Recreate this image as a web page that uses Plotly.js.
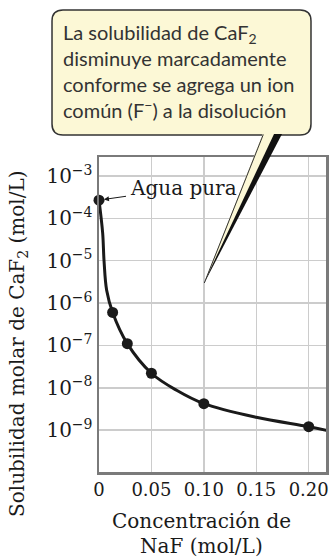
<!DOCTYPE html>
<html>
<head>
<meta charset="utf-8">
<script src="https://cdn.plot.ly/plotly-3.0.1.min.js"></script>
<style>html,body{margin:0;padding:0;background:#fff;}#chart{width:329px;height:557px;}</style>
</head>
<body>
<div id="chart"></div>
<script>
// ---- data ----
const pointX = [0, 0.013, 0.027, 0.05, 0.10, 0.20];
const pointY = [2.7e-4, 6.0e-7, 1.1e-7, 2.2e-8, 4.2e-9, 1.2e-9];
const curveX = [0, 0.0035, 0.0048, 0.0073, 0.013, 0.027, 0.05, 0.074, 0.10, 0.15, 0.20, 0.22];
const curveY = [2.7e-4, 4.5e-5, 1.0e-5, 2.0e-6, 6.0e-7, 1.1e-7, 2.2e-8, 8.7e-9, 4.2e-9, 2.0e-9, 1.2e-9, 9.5e-10];
const xTickVals = [0, 0.05, 0.10, 0.15, 0.20];
const xTickText = ['0', '0.05', '0.10', '0.15', '0.20'];
const yTickVals = [1e-3, 1e-4, 1e-5, 1e-6, 1e-7, 1e-8, 1e-9];
const yTickText = ['10<sup>−3</sup>', '10<sup>−4</sup>', '10<sup>−5</sup>', '10<sup>−6</sup>', '10<sup>−7</sup>', '10<sup>−8</sup>', '10<sup>−9</sup>'];
const calloutLines = ['La solubilidad de CaF<sub>2</sub>', 'disminuye marcadamente', 'conforme se agrega un ion', 'común (F<sup>−</sup>) a la disolución'];
const yTitle = 'Solubilidad molar de CaF<sub>2</sub> (mol/L)';
const xTitleLines = ['Concentración de', 'NaF (mol/L)'];
const pureLabel = 'Agua pura';

// ---- layout geometry (pixels) ----
const L = 99, R = 3, T = 157, B = 85, W = 329, H = 557;
const PW = W - L - R, PH = H - T - B;
const X = p => (p - L) / PW;
const Y = p => (H - B - p) / PH;
const serif = 'DejaVu Serif, serif';
const cream = '#fcf8d6';

function rrect(x0, y0, x1, y1, r) {
  const f = (px, py) => X(px).toFixed(4) + ',' + Y(py).toFixed(4);
  return 'M' + f(x0 + r, y0) + ' L' + f(x1 - r, y0) + ' Q' + f(x1, y0) + ' ' + f(x1, y0 + r) +
    ' L' + f(x1, y1 - r) + ' Q' + f(x1, y1) + ' ' + f(x1 - r, y1) +
    ' L' + f(x0 + r, y1) + ' Q' + f(x0, y1) + ' ' + f(x0, y1 - r) +
    ' L' + f(x0, y0 + r) + ' Q' + f(x0, y0) + ' ' + f(x0 + r, y0) + ' Z';
}
function poly(pts) {
  return 'M' + pts.map(p => X(p[0]).toFixed(4) + ',' + Y(p[1]).toFixed(4)).join(' L') + ' Z';
}

const traces = [
  {x: curveX, y: curveY, mode: 'lines', line: {color: '#1a1a1a', width: 3, shape: 'spline', smoothing: 1}, hoverinfo: 'skip', cliponaxis: false},
  {x: pointX, y: pointY, mode: 'markers', marker: {color: '#1a1a1a', size: 11}, cliponaxis: false}
];

const annotations = [];
const lineY = [33, 58, 84, 109];
calloutLines.forEach((t, i) => annotations.push({
  xref: 'paper', yref: 'paper', x: X(61), y: Y(lineY[i]), xanchor: 'left', yanchor: 'middle',
  text: t, showarrow: false, font: {family: 'Lato, sans-serif', size: 20, color: '#333333'}
}));
annotations.push({
  xref: 'paper', yref: 'paper', x: X(18), y: Y(344), xanchor: 'center', yanchor: 'middle',
  textangle: -90, text: yTitle, showarrow: false, font: {family: serif, size: 20, color: '#1a1a1a'}
});
const xtY = [521, 546];
xTitleLines.forEach((t, i) => annotations.push({
  xref: 'paper', yref: 'paper', x: X(201), y: Y(xtY[i]), xanchor: 'center', yanchor: 'middle',
  text: t, showarrow: false, font: {family: serif, size: 20, color: '#1a1a1a'}
}));
annotations.push({
  xref: 'x', yref: 'y', x: pointX[0], y: Math.log10(pointY[0]),
  ax: 84, ay: -12, text: pureLabel, showarrow: true, arrowhead: 2, arrowsize: 1, arrowwidth: 1,
  arrowcolor: '#1a1a1a', standoff: 5, startstandoff: 2,
  font: {family: serif, size: 20, color: '#1a1a1a'}
});

const shapes = [
  {type: 'path', xref: 'paper', yref: 'paper', path: rrect(52, 10, 311, 135, 11), fillcolor: cream, line: {color: '#333', width: 1.5}, layer: 'above'},
  {type: 'path', xref: 'paper', yref: 'paper', path: poly([[263, 134], [282, 134], [204.3, 283]]), fillcolor: '#111', line: {width: 0}, layer: 'above'},
  {type: 'path', xref: 'paper', yref: 'paper', path: poly([[263, 133], [274.5, 133], [204.3, 282]]), fillcolor: cream, line: {width: 0}, layer: 'above'},
  {type: 'line', xref: 'paper', yref: 'paper', x0: X(263.3), y0: Y(134.5), x1: X(204.3), y1: Y(283), line: {color: '#333', width: 1}, layer: 'above'}
];

const layout = {
  width: W, height: H, margin: {l: L, r: R, t: T, b: B, pad: 0},
  paper_bgcolor: '#fff', plot_bgcolor: '#fff', showlegend: false,
  xaxis: {range: [0, 0.2165], tickvals: xTickVals, ticktext: xTickText, ticks: '', showgrid: true,
    gridcolor: '#cccccc', gridwidth: 1.5, zeroline: false, showline: true, mirror: true,
    linecolor: '#7a7a7a', linewidth: 2.5, ticklabeloverflow: 'allow',
    tickfont: {family: serif, size: 18, color: '#1a1a1a'}, fixedrange: true},
  yaxis: {type: 'log', range: [-9.99, -2.55], tickvals: yTickVals, ticktext: yTickText, ticks: '', showgrid: true,
    gridcolor: '#cccccc', gridwidth: 1.5, zeroline: false, showline: true, mirror: true,
    linecolor: '#7a7a7a', linewidth: 2.5, ticklabeloverflow: 'allow',
    tickfont: {family: serif, size: 20, color: '#1a1a1a'}, fixedrange: true},
  annotations: annotations, shapes: shapes
};
Plotly.newPlot('chart', traces, layout, {displayModeBar: false, staticPlot: true});
</script>
</body>
</html>
